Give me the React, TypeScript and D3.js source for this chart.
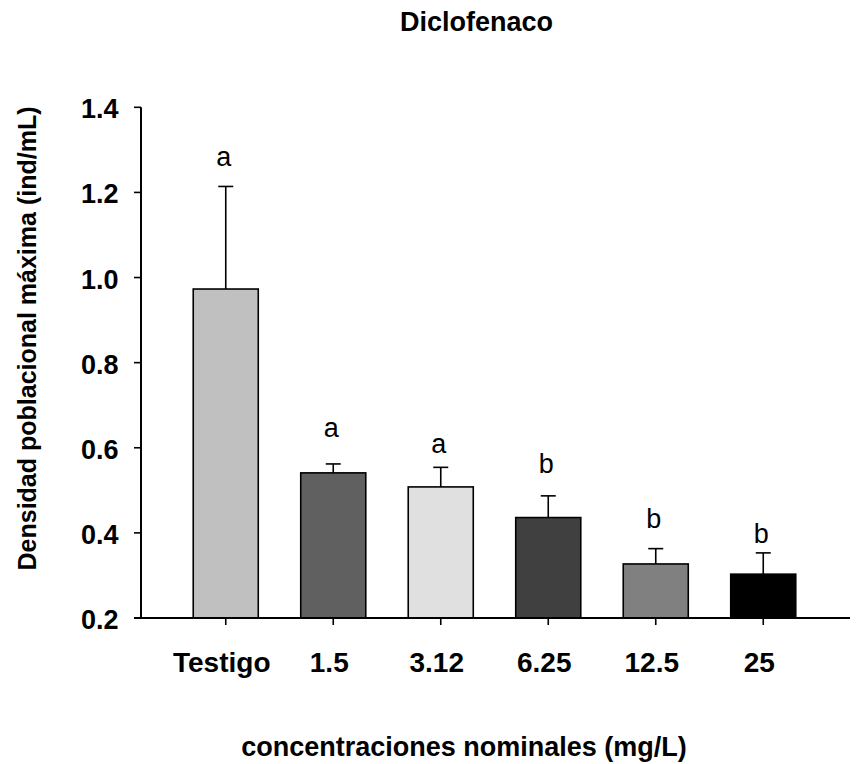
import * as d3 from "d3";
import { useEffect, useRef } from "react";

// datos
const categorias = ["Testigo", "1.5", "3.12", "6.25", "12.5", "25"];
const medias = [0.973, 0.541, 0.508, 0.436, 0.327, 0.303];
const errores = [0.241, 0.021, 0.046, 0.051, 0.036, 0.05];
const letras = ["a", "a", "a", "b", "b", "b"];
const letrasY = [1.262, 0.625, 0.588, 0.541, 0.412, 0.376];
const colores = ["#c0c0c0", "#606060", "#e0e0e0", "#404040", "#808080", "#000000"];
const ticksY = [0.2, 0.4, 0.6, 0.8, 1.0, 1.2, 1.4];

const W = 865;
const H = 764;
const FONT = "'Liberation Sans', Arial, Helvetica, sans-serif";

export default function App() {
    const ref = useRef<SVGSVGElement>(null);

    useEffect(() => {
        const svg = d3.select(ref.current);
        svg.selectAll("*").remove();

        const axisLeftX = 141;
        const axisRightX = 850;
        const axisBottomY = 618;

        const y = d3.scaleLinear().domain([0.2, 1.4]).range([axisBottomY, 107.3]);
        const x = d3
            .scaleBand()
            .domain(categorias)
            .range([172, 817])
            .paddingInner(0.395)
            .paddingOuter(0.395 / 2);

        const bw = x.bandwidth();
        const cx = (c: string) => (x(c) as number) + bw / 2;

        // titulo
        svg.append("text")
            .attr("x", 476.5)
            .attr("y", 31)
            .attr("text-anchor", "middle")
            .style("font-family", FONT)
            .style("font-weight", "bold")
            .style("font-size", "27px")
            .text("Diclofenaco");

        // barras
        svg.selectAll(".barra")
            .data(categorias)
            .enter()
            .append("rect")
            .attr("class", "barra")
            .attr("x", d => x(d) as number)
            .attr("y", (d, i) => y(medias[i]))
            .attr("width", bw)
            .attr("height", (d, i) => axisBottomY - y(medias[i]))
            .attr("fill", (d, i) => colores[i])
            .attr("stroke", "#000")
            .attr("stroke-width", 1.6);

        // barras de error (solo hacia arriba)
        const cap = 7.5;
        categorias.forEach((c, i) => {
            const top = y(medias[i] + errores[i]);
            svg.append("line")
                .attr("x1", cx(c)).attr("x2", cx(c))
                .attr("y1", y(medias[i])).attr("y2", top)
                .attr("stroke", "#000").attr("stroke-width", 1.6);
            svg.append("line")
                .attr("x1", cx(c) - cap).attr("x2", cx(c) + cap)
                .attr("y1", top).attr("y2", top)
                .attr("stroke", "#000").attr("stroke-width", 1.6);
        });

        // letras de significancia
        svg.selectAll(".letra")
            .data(categorias)
            .enter()
            .append("text")
            .attr("class", "letra")
            .attr("x", d => cx(d) - 2)
            .attr("y", (d, i) => y(letrasY[i]))
            .attr("text-anchor", "middle")
            .style("font-family", FONT)
            .style("font-size", "27px")
            .text((d, i) => letras[i]);

        // eje Y
        svg.append("line")
            .attr("x1", axisLeftX).attr("x2", axisLeftX)
            .attr("y1", y(1.4)).attr("y2", axisBottomY)
            .attr("stroke", "#000").attr("stroke-width", 2);
        ticksY.forEach(t => {
            svg.append("line")
                .attr("x1", axisLeftX - 7).attr("x2", axisLeftX)
                .attr("y1", y(t)).attr("y2", y(t))
                .attr("stroke", "#000").attr("stroke-width", 1.6);
            svg.append("text")
                .attr("x", 118.5)
                .attr("y", y(t) + 11)
                .attr("text-anchor", "end")
                .style("font-family", FONT)
                .style("font-weight", "bold")
                .style("font-size", "27px")
                .text(d3.format(".1f")(t));
        });

        // eje X
        svg.append("line")
            .attr("x1", axisLeftX - 7).attr("x2", axisRightX)
            .attr("y1", axisBottomY).attr("y2", axisBottomY)
            .attr("stroke", "#000").attr("stroke-width", 2);
        categorias.forEach(c => {
            svg.append("line")
                .attr("x1", cx(c)).attr("x2", cx(c))
                .attr("y1", axisBottomY).attr("y2", axisBottomY + 7)
                .attr("stroke", "#000").attr("stroke-width", 1.6);
            svg.append("text")
                .attr("x", cx(c) - 4)
                .attr("y", 672)
                .attr("text-anchor", "middle")
                .style("font-family", FONT)
                .style("font-weight", "bold")
                .style("font-size", "28px")
                .text(c);
        });

        // titulos de ejes
        svg.append("text")
            .attr("x", 464)
            .attr("y", 756)
            .attr("text-anchor", "middle")
            .style("font-family", FONT)
            .style("font-weight", "bold")
            .style("font-size", "27px")
            .text("concentraciones nominales (mg/L)");

        svg.append("text")
            .attr("transform", "translate(36, 338.5) rotate(-90)")
            .attr("text-anchor", "middle")
            .style("font-family", FONT)
            .style("font-weight", "bold")
            .style("font-size", "25px")
            .text("Densidad poblacional máxima (ind/mL)");
    }, []);

    return (
        <svg
            ref={ref}
            width={W}
            height={H}
            style={{ position: "absolute", left: 0, top: 0, background: "#fff" }}
        ></svg>
    );
}
